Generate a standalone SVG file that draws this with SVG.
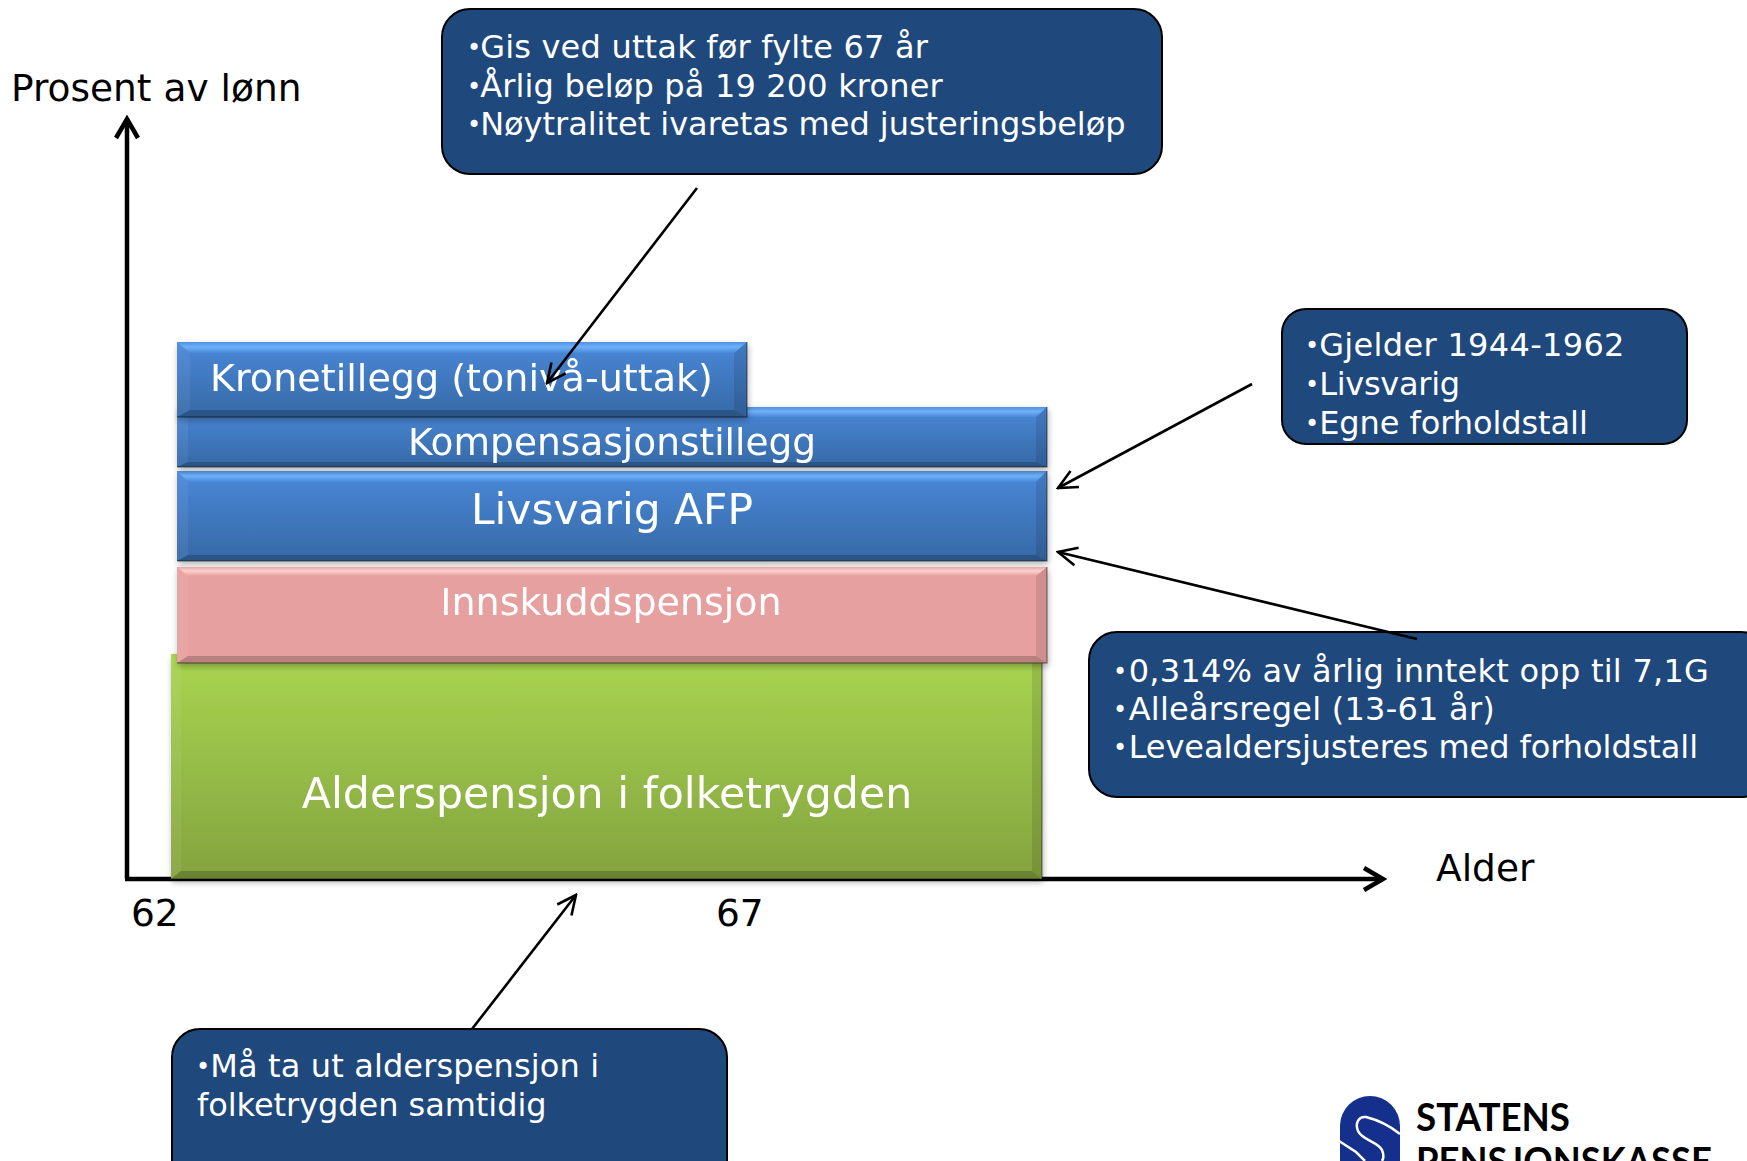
<svg xmlns="http://www.w3.org/2000/svg" width="1747" height="1161" viewBox="0 0 1747 1161">
<defs>
<linearGradient id="gb" x1="0" y1="0" x2="0" y2="1"><stop offset="0" stop-color="#4a88d8"/><stop offset="1" stop-color="#3669a6"/></linearGradient>
<linearGradient id="gbt" x1="0" y1="0" x2="0" y2="1"><stop offset="0" stop-color="#4f90e0"/><stop offset="0.45" stop-color="#6fb1fa"/><stop offset="1" stop-color="#4a88d8"/></linearGradient>
<linearGradient id="gpt" x1="0" y1="0" x2="0" y2="1"><stop offset="0" stop-color="#f2b0ae"/><stop offset="0.45" stop-color="#fcd0ce"/><stop offset="1" stop-color="#e6a09f"/></linearGradient>
<linearGradient id="gg" x1="0" y1="0" x2="0" y2="1"><stop offset="0" stop-color="#a9d550"/><stop offset="1" stop-color="#83a33f"/></linearGradient>
<filter id="sh" x="-5%" y="-10%" width="110%" height="125%"><feGaussianBlur in="SourceAlpha" stdDeviation="3"/><feOffset dx="1" dy="3"/><feComponentTransfer><feFuncA type="linear" slope="0.3"/></feComponentTransfer><feMerge><feMergeNode/><feMergeNode in="SourceGraphic"/></feMerge></filter>
<marker id="oa" viewBox="0 0 24 24" refX="22" refY="12" markerWidth="24" markerHeight="24" markerUnits="userSpaceOnUse" orient="auto"><path d="M3 3 L22 12 L3 21" fill="none" stroke="#000" stroke-width="2.6"/></marker>
<marker id="ax" viewBox="0 0 28 28" refX="24" refY="14" markerWidth="28" markerHeight="28" markerUnits="userSpaceOnUse" orient="auto"><path d="M5 3 L24 14 L5 25" fill="none" stroke="#000" stroke-width="4.5"/></marker>
</defs>
<style>
text{font-family:"DejaVu Sans",Verdana,sans-serif}
.c{fill:#1f497d;stroke:#000;stroke-width:2}
.t{fill:#fff;font-size:32px}
.b{font-size:24px}
.k{fill:#000;font-size:37.5px}
.m{text-anchor:middle;fill:#fff}
.l{fill:none;stroke:#000;stroke-width:2.6}
.hl{fill:#fff;opacity:.06}
.sd{fill:#000;opacity:.1}
.bt{fill:#000;opacity:.2}
.ed{fill:none;stroke:#000;stroke-width:1.5;opacity:.35}
.logo{font-family:Lato,"Open Sans",sans-serif;font-weight:700;font-size:38px;fill:#000}
</style>
<rect width="1747" height="1161" fill="#fff"/>
<g id="connectors-axes">
<path d="M127 879V119" fill="none" stroke="#000" stroke-width="4.5" marker-end="url(#ax)"/>
<path d="M125 879H1383" fill="none" stroke="#000" stroke-width="4.5" marker-end="url(#ax)"/>
</g>
<g id="bar-alders" filter="url(#sh)">
<rect x="171" y="654" width="871" height="225" fill="url(#gg)"/>
<path class="hl" d="M171 654l10 10V871l-10 8z"/>
<path class="sd" d="M1042 654l-10 10V871l10 8z"/>
<path class="bt" d="M171 879l10-8H1032l10 8z"/>
<path class="ed" d="M171 879H1042V654"/>
<text class="m" x="607" y="808" font-size="42.7">Alderspensjon i folketrygden</text>
</g>
<g id="bar-innskudd" filter="url(#sh)">
<rect x="177" y="567" width="870" height="96" fill="#e6a09f"/>
<path d="M177 567H1047l-11 9H188z" fill="url(#gpt)"/>
<path class="hl" d="M177 567l11 9V656l-11 7z"/>
<path class="sd" d="M1047 567l-11 9V656l11 7z"/>
<path class="bt" d="M177 663l11-7H1036l11 7z"/>
<path class="ed" d="M177 663H1047V567"/>
<text class="m" x="611" y="615" font-size="38">Innskuddspensjon</text>
</g>
<g id="bar-livsvarig" filter="url(#sh)">
<rect x="177" y="471" width="870" height="90" fill="url(#gb)"/>
<path d="M177 471H1047l-11 11H188z" fill="url(#gbt)"/>
<path class="hl" d="M177 471l11 11V555l-11 6z"/>
<path class="sd" d="M1047 471l-11 11V555l11 6z"/>
<path class="bt" d="M177 561l11-6H1036l11 6z"/>
<path class="ed" d="M177 561H1047V471"/>
<text class="m" x="612" y="524" font-size="42.4">Livsvarig AFP</text>
</g>
<g id="bar-kompensasjon" filter="url(#sh)">
<rect x="177" y="407" width="870" height="60" fill="url(#gb)"/>
<path d="M177 407H1047l-11 10H188z" fill="url(#gbt)"/>
<path class="hl" d="M177 407l11 10V462l-11 5z"/>
<path class="sd" d="M1047 407l-11 10V462l11 5z"/>
<path class="bt" d="M177 467l11-5H1036l11 5z"/>
<path class="ed" d="M177 467H1047V407"/>
<text class="m" x="612" y="455" font-size="37.5">Kompensasjonstillegg</text>
</g>
<g id="bar-kronetillegg" filter="url(#sh)">
<rect x="177" y="342" width="570" height="75" fill="url(#gb)"/>
<path d="M177 342H747l-13 11H190z" fill="url(#gbt)"/>
<path class="hl" d="M177 342l13 11V410l-13 7z"/>
<path class="sd" d="M747 342l-13 11V410l13 7z"/>
<path class="bt" d="M177 417l13-7H734l13 7z"/>
<path class="ed" d="M177 417H747V342"/>
<text class="m" x="461.5" y="391" font-size="38.1">Kronetillegg (tonivå-uttak)</text>
</g>
<g id="callout-uttak">
<rect class="c" x="442" y="9" width="720" height="165" rx="28"/>
<text class="t" x="467" y="58"><tspan class="b" dy="-2">•</tspan><tspan dy="2" dx="-1" letter-spacing=".2">Gis ved uttak før fylte 67 år</tspan></text>
<text class="t" x="467" y="97"><tspan class="b" dy="-2">•</tspan><tspan dy="2" dx="-1" letter-spacing=".16">Årlig beløp på 19 200 kroner</tspan></text>
<text class="t" x="467" y="135"><tspan class="b" dy="-2">•</tspan><tspan dy="2" dx="-1" letter-spacing="-.03">Nøytralitet ivaretas med justeringsbeløp</tspan></text>
</g>
<g id="callout-gjelder">
<rect class="c" x="1282" y="309" width="405" height="135" rx="24"/>
<text class="t" x="1305" y="356"><tspan class="b" dy="-2">•</tspan><tspan dy="2" letter-spacing=".33">Gjelder 1944-1962</tspan></text>
<text class="t" x="1305" y="395"><tspan class="b" dy="-2">•</tspan><tspan dy="2" letter-spacing="-.28">Livsvarig</tspan></text>
<text class="t" x="1305" y="434"><tspan class="b" dy="-2">•</tspan><tspan dy="2" letter-spacing="-.07">Egne forholdstall</tspan></text>
</g>
<g id="callout-inntekt">
<rect class="c" x="1089" y="632" width="680" height="165" rx="28"/>
<text class="t" x="1113" y="682"><tspan class="b" dy="-2">•</tspan><tspan dy="2" dx="1.5" letter-spacing=".25">0,314% av årlig inntekt opp til 7,1G</tspan></text>
<text class="t" x="1113" y="720"><tspan class="b" dy="-2">•</tspan><tspan dy="2" dx="1.5" letter-spacing=".24">Alleårsregel (13-61 år)</tspan></text>
<text class="t" x="1113" y="758"><tspan class="b" dy="-2">•</tspan><tspan dy="2" dx="1.5" letter-spacing="-.06">Levealdersjusteres med forholdstall</tspan></text>
</g>
<g id="callout-alderspensjon">
<rect class="c" x="172" y="1029" width="555" height="170" rx="28"/>
<text class="t" x="196" y="1077"><tspan class="b" dy="-2">•</tspan><tspan dy="2" letter-spacing=".14">Må ta ut alderspensjon i</tspan></text>
<text class="t" x="197" y="1116" letter-spacing="-.05">folketrygden samtidig</text>
</g>
<g id="connectors">
<path class="l" d="M697 188L547 383" marker-end="url(#oa)"/>
<path class="l" d="M1252 384L1058 488" marker-end="url(#oa)"/>
<path class="l" d="M1417 639L1058 552" marker-end="url(#oa)"/>
<path class="l" d="M472 1029L576 895" marker-end="url(#oa)"/>
</g>
<g id="labels">
<text class="k" x="11" y="101">Prosent av lønn</text>
<text class="k" x="1436" y="881">Alder</text>
<text class="k" x="131" y="926">62</text>
<text class="k" x="716" y="926">67</text>
</g>
<g id="logo">
<rect x="1340" y="1096" width="60" height="110" rx="30" fill="#14308c"/>
<path d="M1400 1134C1390 1126 1378 1120 1366 1117C1358 1116 1355 1124 1358 1131C1362 1140 1378 1142 1382 1150C1384 1155 1384 1158 1382 1161" fill="none" stroke="#fff" stroke-width="2.5"/>
<path d="M1339 1141L1356 1152L1365 1161" fill="none" stroke="#fff" stroke-width="2.5"/>
<text class="logo" x="1416" y="1131" textLength="154" lengthAdjust="spacingAndGlyphs">STATENS</text>
<text class="logo" x="1416" y="1175" textLength="296" lengthAdjust="spacingAndGlyphs">PENSJONSKASSE</text>
</g>
</svg>
